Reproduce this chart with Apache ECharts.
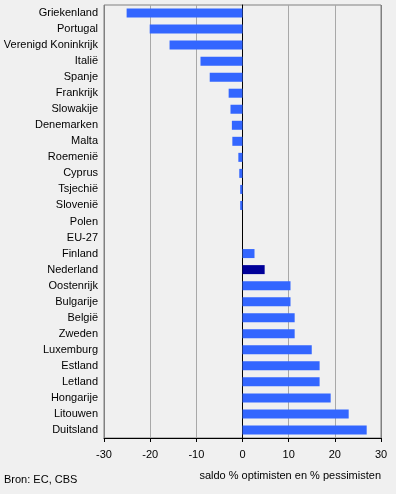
<!DOCTYPE html>
<html>
<head>
<meta charset="utf-8">
<script src="https://cdn.jsdelivr.net/npm/echarts@6/dist/echarts.min.js"></script>
<style>
html,body{margin:0;padding:0;background:#f0f0f0;}
#c{width:396px;height:494px;}
</style>
</head>
<body>
<div id="c"></div>
<script>
const categories = ['Griekenland','Portugal','Verenigd Koninkrijk','Italië','Spanje','Frankrijk','Slowakije','Denemarken','Malta','Roemenië','Cyprus','Tsjechië','Slovenië','Polen','EU-27','Finland','Nederland','Oostenrijk','Bulgarije','België','Zweden','Luxemburg','Estland','Letland','Hongarije','Litouwen','Duitsland'];
const values = [-25.1,-20.1,-15.8,-9.1,-7.1,-3.0,-2.6,-2.3,-2.2,-0.9,-0.7,-0.5,-0.5,0,0,2.6,4.8,10.4,10.4,11.3,11.3,15.0,16.7,16.7,19.1,23.0,26.9];
const highlight = 'Nederland';
const xTicks = [-30,-20,-10,0,10,20,30];
const axisTitle = 'saldo % optimisten en % pessimisten';
const source = 'Bron: EC, CBS';

const font = 'Liberation Sans, Arial, sans-serif';
const chart = echarts.init(document.getElementById('c'), null, {renderer:'canvas'});
chart.setOption({
  backgroundColor:'#f0f0f0',
  animation:false,
  textStyle:{fontFamily:font},
  grid:{left:104,right:15,top:5,bottom:56,show:true,borderColor:'#808080',borderWidth:1,backgroundColor:'transparent'},
  xAxis:{
    type:'value',min:xTicks[0],max:xTicks[xTicks.length-1],interval:10,
    axisLine:{show:true,onZero:false,lineStyle:{color:'#000',width:1}},
    axisTick:{show:true,length:4,lineStyle:{color:'#000'}},
    axisLabel:{color:'#000',fontSize:11,fontFamily:font,margin:11},
    splitLine:{show:true,lineStyle:{color:['#808080','#a8a8a8','#a8a8a8','#a8a8a8','#a8a8a8','#a8a8a8','#808080'],width:1}}
  },
  yAxis:{
    type:'category',data:categories,inverse:true,
    axisLine:{show:true,onZero:true,lineStyle:{color:'#000',width:1}},
    axisTick:{show:false},
    axisLabel:{color:'#000',fontSize:11,fontFamily:font,margin:6,interval:0},
    splitLine:{show:false}
  },
  series:[{
    type:'bar',barWidth:9,
    data:values.map((v,i)=>({value:v,itemStyle:{color:categories[i]===highlight?'#000099':'#3366ff'}})),
    z:1
  }],
  graphic:[
    {type:'text',right:15,top:470,style:{text:axisTitle,fill:'#000',font:'11px '+font,textAlign:'right'}},
    {type:'text',left:4,top:474,style:{text:source,fill:'#000',font:'11px '+font}}
  ]
});
</script>
</body>
</html>
